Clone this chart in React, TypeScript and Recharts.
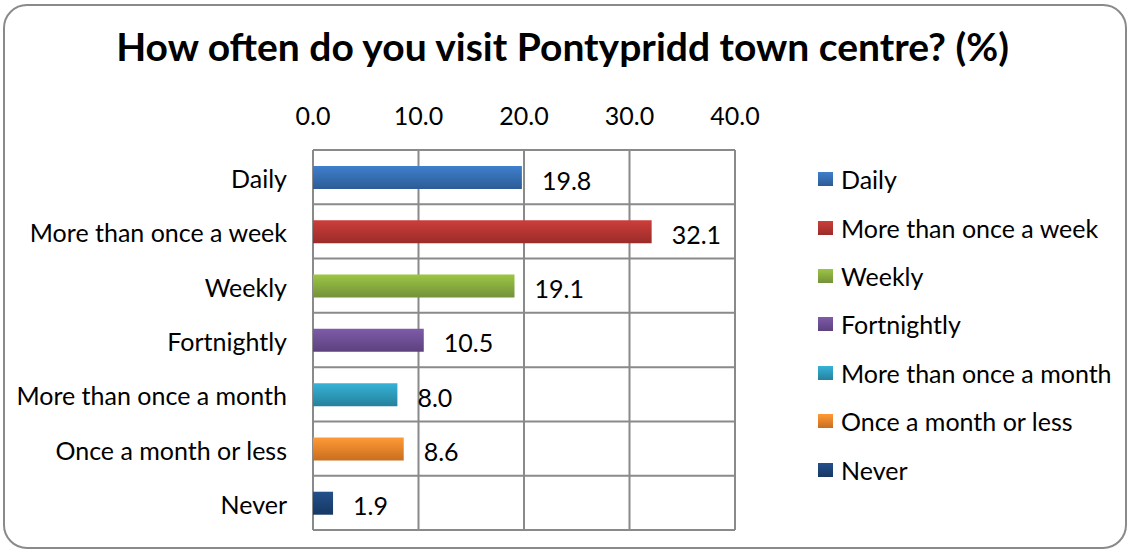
import React from "react";
import { BarChart, Bar, XAxis, YAxis, CartesianGrid, Cell, LabelList } from "recharts";

const categories = [
  "Daily",
  "More than once a week",
  "Weekly",
  "Fortnightly",
  "More than once a month",
  "Once a month or less",
  "Never",
];
const values = [19.8, 32.1, 19.1, 10.5, 8.0, 8.6, 1.9];
const topColors = ["#3F7FCC", "#CC3E3B", "#9CC644", "#7E5BA8", "#36B3D8", "#FF9A36", "#24508C"];
const bottomColors = ["#2C5C96", "#9A2C29", "#74913A", "#5C417E", "#25819C", "#C96E1F", "#163863"];
const xTicks = [0, 10, 20, 30, 40];
const title = "How often do you visit Pontypridd town centre? (%)";

const data = categories.map((name, i) => ({ name, value: values[i] }));

const FONT = "Lato, 'Open Sans', sans-serif";
const FS = 25;
const W = 1132;
const H = 553;

const YTick = (props: any) => {
  const { x, y, payload } = props;
  return (
    <text x={x} y={y + 11} textAnchor="end" fontFamily={FONT} fontSize={FS} fill="#000">
      {payload.value}
    </text>
  );
};

const XTick = (props: any) => {
  const { x, y, payload } = props;
  return (
    <text x={x} y={y} textAnchor="middle" fontFamily={FONT} fontSize={FS} fill="#000">
      {Number(payload.value).toFixed(1)}
    </text>
  );
};

const ValueLabel = (props: any) => {
  const { x, y, width, height, value } = props;
  return (
    <text x={x + width + 20} y={y + height / 2 + 12} textAnchor="start" fontFamily={FONT} fontSize={FS} fill="#000">
      {Number(value).toFixed(1)}
    </text>
  );
};

export default function App() {
  return (
    <div style={{ position: "fixed", left: 0, top: 0, width: W, height: H, background: "#fff", overflow: "hidden" }}>
      <div
        style={{
          position: "absolute",
          left: 3,
          top: 4,
          width: W - 8,
          height: H - 8,
          border: "2px solid #8a8a8a",
          borderRadius: 24,
          boxSizing: "border-box",
        }}
      />
      <div
        style={{
          position: "absolute",
          left: 0,
          width: 1125,
          top: 23,
          textAlign: "center",
          fontFamily: FONT,
          fontWeight: 700,
          fontSize: 39,
          lineHeight: "46px",
          color: "#000",
          whiteSpace: "nowrap",
        }}
      >
        {title}
      </div>
      <div style={{ position: "absolute", left: 0, top: 0 }}>
        <BarChart
          width={W}
          height={H}
          data={data}
          layout="vertical"
          margin={{ top: 100, right: 397, bottom: 23, left: 13 }}
        >
          <defs>
            {categories.map((c, i) => (
              <linearGradient key={c} id={`g${i}`} x1="0" y1="0" x2="0" y2="1">
                <stop offset="0%" stopColor={topColors[i]} />
                <stop offset="100%" stopColor={bottomColors[i]} />
              </linearGradient>
            ))}
          </defs>
          <CartesianGrid
            stroke="#8a8a8a"
            strokeWidth={2}
            horizontalCoordinatesGenerator={({ offset }: any) =>
              Array.from({ length: categories.length + 1 }, (_, i) => offset.top + (i * offset.height) / categories.length)
            }
          />
          <XAxis
            type="number"
            orientation="top"
            domain={[0, 40]}
            ticks={xTicks}
            axisLine={false}
            tickLine={false}
            tickSize={0}
            tickMargin={25}
            height={50}
            tick={<XTick />}
            interval={0}
          />
          <YAxis
            type="category"
            dataKey="name"
            width={300}
            axisLine={false}
            tickLine={false}
            tickSize={0}
            tickMargin={26}
            tick={<YTick />}
            interval={0}
          />
          <Bar dataKey="value" barSize={23} isAnimationActive={false}>
            {data.map((d, i) => (
              <Cell key={d.name} fill={`url(#g${i})`} />
            ))}
            <LabelList dataKey="value" content={<ValueLabel />} />
          </Bar>
        </BarChart>
      </div>
      <div style={{ position: "absolute", left: 818, top: 155, fontFamily: FONT, fontSize: FS, color: "#000" }}>
        {categories.map((c, i) => (
          <div key={c} style={{ height: 48.4, display: "flex", alignItems: "center", whiteSpace: "nowrap" }}>
            <span
              style={{
                display: "inline-block",
                width: 15,
                height: 14,
                marginRight: 8,
                background: `linear-gradient(${topColors[i]}, ${bottomColors[i]})`,
              }}
            />
            <span>{c}</span>
          </div>
        ))}
      </div>
    </div>
  );
}
